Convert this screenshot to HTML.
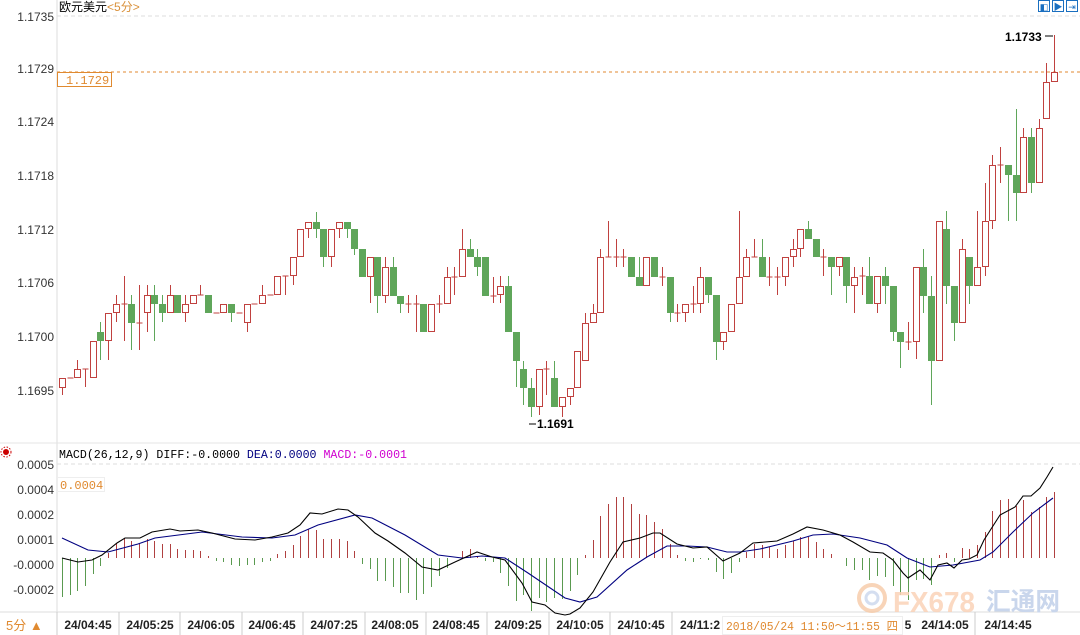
<!DOCTYPE html>
<html><head><meta charset="utf-8">
<style>
html,body{margin:0;padding:0;background:#fff;width:1080px;height:635px;overflow:hidden}
svg{display:block}
text{font-family:"Liberation Sans","Noto Sans CJK SC",sans-serif}
.m{font-family:"Liberation Mono","Noto Sans CJK SC",monospace}
</style></head><body>
<svg id="s" width="1080" height="635" xmlns="http://www.w3.org/2000/svg">
<rect width="1080" height="635" fill="#fff"/>
<line x1="57" y1="0" x2="57" y2="635" stroke="#ddd"/>
<line x1="57" y1="16" x2="1080" y2="16" stroke="#ddd" stroke-dasharray="4,3"/>
<line x1="57" y1="464" x2="1080" y2="464" stroke="#ddd" stroke-dasharray="4,3"/>
<line x1="0" y1="443" x2="1080" y2="443" stroke="#e4e4e4"/>
<line x1="0" y1="612" x2="1080" y2="612" stroke="#ddd"/>
<g font-size="12" fill="#333" text-anchor="end">
<text x="54" y="21">1.1735</text><text x="54" y="73">1.1729</text><text x="54" y="126">1.1724</text>
<text x="54" y="180">1.1718</text><text x="54" y="234">1.1712</text><text x="54" y="287">1.1706</text>
<text x="54" y="341">1.1700</text><text x="54" y="395">1.1695</text>
<text x="54" y="469">0.0005</text><text x="54" y="494">0.0004</text><text x="54" y="519">0.0002</text>
<text x="54" y="544">0.0001</text><text x="54" y="569">-0.0000</text><text x="54" y="594">-0.0002</text>
</g>
<text x="59" y="11" font-size="12" fill="#000">欧元美元<tspan fill="#d9903a">&lt;5分&gt;</tspan></text>
<line x1="57" y1="72" x2="1080" y2="72" stroke="#e08a30" stroke-dasharray="3,3"/>
<rect x="57.5" y="72.5" width="54" height="14" fill="#fff" stroke="#e08a30"/>
<text x="66" y="84" class="m" font-size="12" fill="#e08a30">1.1729</text>
<g fill="none" stroke="#1a6fc0"><rect x="1038.5" y="0.5" width="11" height="11"/><rect x="1052.5" y="0.5" width="11" height="11"/><rect x="1066.5" y="0.5" width="11" height="11"/></g>
<text x="1044" y="10" font-size="9" fill="#1a6fc0" text-anchor="middle">◧</text>
<text x="1058" y="10" font-size="9" fill="#1a6fc0" text-anchor="middle">▶</text>
<text x="1072" y="10" font-size="9" fill="#1a6fc0" text-anchor="middle">⇥</text>
<g id="c"></g>
<text x="1005" y="41" font-size="12" font-weight="bold" fill="#000">1.1733</text>
<line x1="1045" y1="36" x2="1053" y2="36" stroke="#000"/>
<line x1="529" y1="424" x2="536" y2="424" stroke="#000"/>
<text x="537" y="428" font-size="12" font-weight="bold" fill="#000">1.1691</text>
<circle cx="6" cy="452" r="3" fill="#c00"/><circle cx="6" cy="452" r="5" fill="none" stroke="#c00" stroke-dasharray="1.5,1.5"/>
<text x="59" y="458" class="m" font-size="12" fill="#000" textLength="348" lengthAdjust="spacingAndGlyphs">MACD(26,12,9) DIFF:-0.0000 <tspan fill="#000080">DEA:0.0000</tspan> <tspan fill="#d000d0">MACD:-0.0001</tspan></text>
<rect x="57.5" y="477.5" width="47" height="14" fill="#fff" stroke="#eee"/>
<text x="60" y="489" class="m" font-size="12" fill="#e08a30">0.0004</text>
<g id="h"></g>
<circle cx="872" cy="598" r="13" fill="none" stroke="#f6c9a6" stroke-width="4" opacity="0.8"/>
<circle cx="872" cy="598" r="6" fill="none" stroke="#c9d6ec" stroke-width="3" opacity="0.8"/>
<text x="893" y="612" font-size="29" font-weight="bold" fill="#fbd3b8" opacity="0.85" textLength="82" lengthAdjust="spacingAndGlyphs">FX678</text>
<text x="986" y="610" font-size="25" font-weight="bold" fill="#c9d6ec" textLength="74" lengthAdjust="spacingAndGlyphs">汇通网</text>
<polyline id="dea" fill="none" stroke="#000080" stroke-width="1.1"/>
<polyline id="dif" fill="none" stroke="#000" stroke-width="1.1"/>
<text x="6" y="630" font-size="13" fill="#e08a30">5分 ▲</text>
<g font-size="12" font-weight="bold" fill="#222" text-anchor="middle">
<text x="88" y="629">24/04:45</text><text x="150" y="629">24/05:25</text><text x="211" y="629">24/06:05</text>
<text x="272" y="629">24/06:45</text><text x="334" y="629">24/07:25</text><text x="395" y="629">24/08:05</text>
<text x="456" y="629">24/08:45</text><text x="518" y="629">24/09:25</text><text x="580" y="629">24/10:05</text>
<text x="641" y="629">24/10:45</text><text x="700" y="629">24/11:2</text><text x="908" y="629">5</text>
<text x="945" y="629">24/14:05</text><text x="1008" y="629">24/14:45</text>
</g>
<g stroke="#ccc"><line x1="57" y1="612" x2="57" y2="635"/><line x1="119" y1="612" x2="119" y2="635"/><line x1="180" y1="612" x2="180" y2="635"/><line x1="242" y1="612" x2="242" y2="635"/><line x1="303" y1="612" x2="303" y2="635"/><line x1="365" y1="612" x2="365" y2="635"/><line x1="426" y1="612" x2="426" y2="635"/><line x1="487" y1="612" x2="487" y2="635"/><line x1="549" y1="612" x2="549" y2="635"/><line x1="610" y1="612" x2="610" y2="635"/><line x1="672" y1="612" x2="672" y2="635"/><line x1="975" y1="612" x2="975" y2="635"/></g>
<rect x="722.5" y="616.5" width="180" height="18" fill="#fff" stroke="#eee"/>
<text x="726" y="630" class="m" font-size="12" fill="#e08a30" textLength="172" lengthAdjust="spacingAndGlyphs">2018/05/24 11:50～11:55 四</text>
</svg>
<script>
var C=[[378,388,378,395,'r'],[378,378,378,378,'d'],[369,378,360,378,'r'],[369,369,369,387,'d'],[341,378,341,378,'r'],[332,341,322,360,'g'],[313,341,313,360,'r'],[304,313,295,322,'r'],[304,304,276,341,'d'],[304,323,295,350,'g'],[323,323,285,350,'d'],[295,313,285,332,'r'],[295,304,285,341,'g'],[304,313,295,322,'g'],[295,313,285,313,'r'],[295,313,295,313,'g'],[304,313,295,322,'r'],[295,304,295,304,'r'],[295,295,285,295,'d'],[295,313,295,313,'g'],[313,313,313,313,'d'],[304,313,304,313,'r'],[304,313,304,322,'g'],[313,313,313,313,'d'],[304,323,304,332,'r'],[304,304,304,304,'d'],[295,304,285,304,'r'],[295,295,295,295,'d'],[276,295,276,295,'r'],[276,276,276,295,'d'],[257,276,257,285,'r'],[229,257,229,257,'r'],[222,229,222,238,'r'],[222,229,212,238,'g'],[229,257,229,267,'g'],
[229,257,229,267,'r'],[222,229,222,238,'r'],[222,229,222,238,'g'],[229,249,229,255,'g'],[249,277,249,277,'g'],[257,277,257,303,'r'],[257,296,257,313,'g'],[267,296,257,303,'r'],[267,296,257,296,'g'],[296,304,296,313,'g'],[304,304,295,313,'d'],[304,304,295,332,'d'],[304,332,304,332,'g'],[304,332,304,332,'r'],[304,304,295,313,'d'],[277,304,267,304,'r'],[277,277,267,295,'d'],[249,277,229,277,'r'],[249,257,239,257,'g'],[257,267,249,276,'g'],[257,296,257,296,'g'],[296,296,277,303,'d'],[286,295,276,303,'r'],[286,332,276,332,'g'],[332,361,332,387,'g'],[369,388,361,405,'g'],[388,407,378,417,'g'],[369,407,369,415,'r'],[369,369,361,395,'d'],[378,407,361,407,'g'],[397,407,397,417,'r'],[388,397,388,405,'r'],[351,388,351,388,'r'],[323,361,313,361,'r'],
[313,323,304,323,'r'],[257,313,249,313,'r'],[257,257,221,257,'d'],[257,257,239,267,'d'],[257,257,249,267,'d'],[257,277,257,277,'g'],[277,286,257,286,'g'],[257,286,257,286,'r'],[257,277,257,277,'g'],[277,277,267,286,'d'],[277,313,277,322,'g'],[313,313,304,322,'d'],[304,313,304,322,'r'],[304,304,286,313,'d'],[277,304,267,313,'r'],[277,295,277,303,'g'],[295,342,295,360,'g'],[332,342,332,350,'r'],[304,332,304,332,'r'],[277,304,211,304,'r'],[257,277,249,277,'r'],[257,257,239,257,'d'],[257,277,239,277,'g'],[277,277,257,286,'d'],[277,277,267,295,'d'],[257,277,257,286,'r'],[249,257,239,267,'r'],[229,249,229,257,'r'],[229,239,221,239,'g'],[239,257,239,257,'g'],[257,257,249,276,'d'],[257,267,257,295,'g'],[257,267,257,276,'r'],[257,286,257,303,'g'],[277,286,267,313,'r'],
[276,276,267,295,'d'],[276,304,257,304,'g'],[276,304,276,313,'r'],[276,286,267,304,'g'],[286,332,286,341,'g'],[332,342,332,368,'g'],[342,342,322,350,'d'],[267,342,267,359,'r'],[267,296,249,313,'g'],[296,361,276,405,'g'],[221,361,221,361,'r'],[229,286,211,304,'g'],[286,323,286,341,'g'],[249,323,239,323,'r'],[257,286,257,304,'g'],[267,286,211,286,'r'],[221,267,183,276,'r'],[165,221,155,229,'r'],[165,165,147,183,'d'],[165,175,165,221,'g'],[175,193,109,221,'g'],[137,193,128,193,'r'],[137,183,128,193,'g'],[128,183,119,183,'r'],[82,119,63,119,'r'],[72,82,35,82,'r']];
var H=[-39,-37,-33,-28,-16,-8,5,15,20,17,14,19,17,14,14,9,8,8,7,2,-3,-4,-7,-8,-7,-7,-4,-3,4,7,13,22,29,28,19,19,19,17,7,-6,-11,-23,-23,-29,-35,-35,-42,-36,-29,-18,-10,0,7,9,2,-3,-4,-15,-28,-43,-37,-53,-40,-44,-40,-41,-33,-17,3,18,42,54,61,61,54,44,43,36,29,14,3,-3,-4,-1,-2,-14,-21,-15,-4,6,14,13,11,9,13,17,21,21,16,9,4,0,-8,-12,-12,-22,-18,-19,-28,-37,-42,-22,-21,-27,3,5,-4,10,9,13,26,47,58,59,52,58,46,51,61,66];
var NS='http://www.w3.org/2000/svg',g=document.getElementById('c'),h=document.getElementById('h');
function el(p,t,a){var e=document.createElementNS(NS,t);for(var k in a)e.setAttribute(k,a[k]);p.appendChild(e);return e;}
var R='#c0413f',G='#5fa65a';
C.forEach(function(c,i){var x=Math.round(62+7.69*i)+0.5;var col=c[4]=='g'?G:R;
el(g,'line',{x1:x,y1:c[2],x2:x,y2:c[3],stroke:col});
if(c[4]=='d'){el(g,'line',{x1:x-3,y1:c[0],x2:x+3,y2:c[0],stroke:col});}
else if(c[4]=='g'){el(g,'rect',{x:x-3.5,y:c[0],width:7,height:Math.max(1,c[1]-c[0]),fill:G});}
else{el(g,'rect',{x:x-3,y:c[0]+0.5,width:6,height:Math.max(1,c[1]-c[0]-1),fill:'#fff',stroke:R});}});
H.forEach(function(v,i){var x=Math.round(62+7.69*i)+0.5;if(v==0)return;el(h,'line',{x1:x,y1:558,x2:x,y2:558-v,stroke:v>0?'#b04040':'#5a9a50'});});
document.getElementById('dif').setAttribute('points',"62,558 78,562 92,560 102,555 117,543 125,538 140,538 152,532 170,529 180,531 198,530 212,533 235,539 255,540 272,537 288,533 300,525 310,513 322,514 338,509 348,510 358,517 375,533 388,541 405,553 422,567 438,570 455,562 477,552 492,557 505,560 522,583 532,602 545,605 555,613 565,615 570,614 580,608 593,592 610,562 623,542 640,538 653,533 660,533 677,544 693,548 707,547 723,561 740,553 753,543 777,541 793,534 807,527 823,530 840,535 853,542 870,552 883,553 893,560 903,573 908,578 920,570 930,580 938,565 947,563 954,568 962,560 969,559 977,555 984,540 1000,515 1015,507 1023,496 1031,496 1040,488 1047,477 1053,467");
document.getElementById('dea').setAttribute('points',"62,538 88,550 108,552 138,544 155,538 202,532 242,537 272,538 295,535 318,525 355,515 372,518 405,535 438,555 462,558 482,556 505,558 528,573 565,598 580,602 597,597 627,570 647,557 667,546 687,546 707,547 727,552 740,552 760,549 793,541 813,535 833,534 860,538 887,545 907,558 930,567 953,565 980,560 993,552 1013,532 1033,513 1053,498");
</script>
</body></html>
